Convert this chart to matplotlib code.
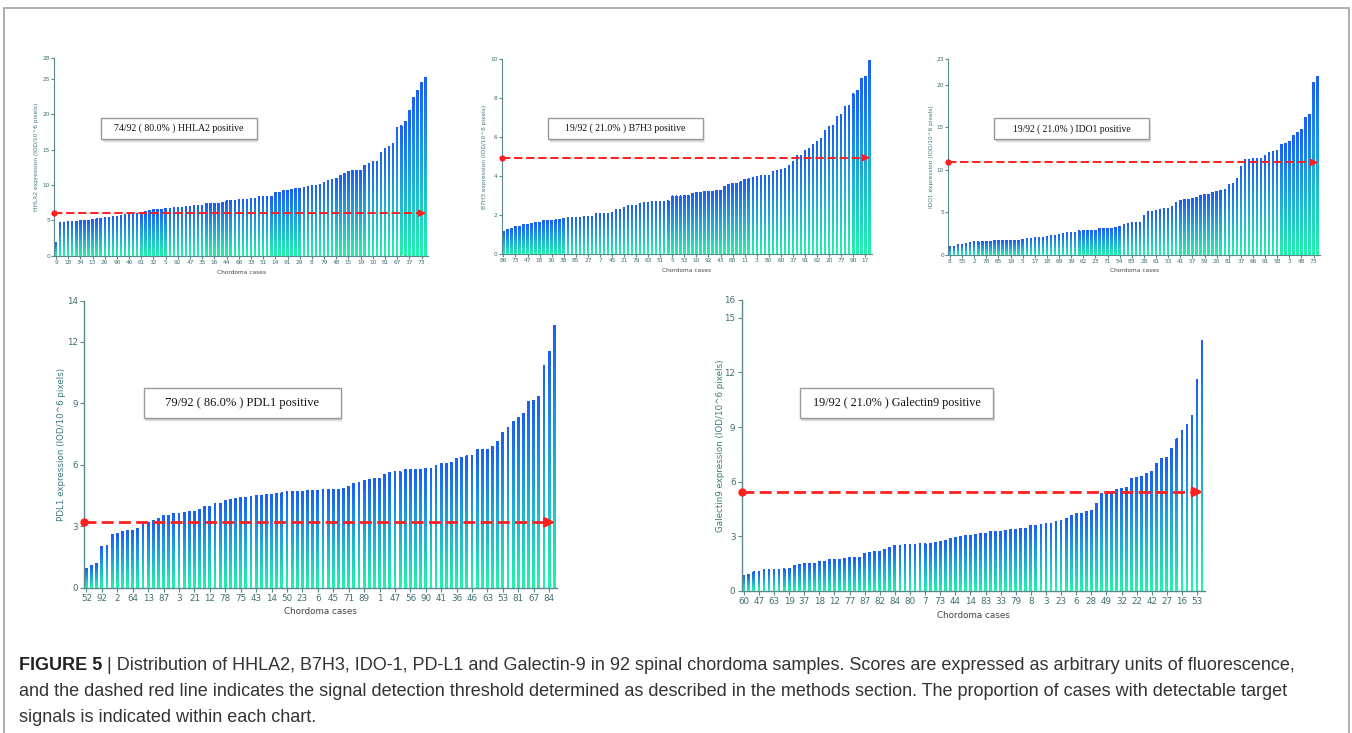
import numpy as np
import matplotlib
matplotlib.use('Agg')
import matplotlib.pyplot as plt
from matplotlib.patches import Rectangle
from matplotlib.colors import LinearSegmentedColormap
from matplotlib import font_manager

# ---------------- data ----------------
hhla2_vals = [1.9, 4.75, 4.75, 4.8, 4.85, 4.9, 4.95, 5.0, 5.05, 5.1,
              5.2, 5.3, 5.4, 5.4, 5.5, 5.5, 5.65, 5.8, 5.85, 5.95,
              6.0, 6.1, 6.2, 6.4, 6.5, 6.55, 6.6, 6.7, 6.7, 6.8,
              6.8, 6.85, 6.95, 7.0, 7.1, 7.1, 7.15, 7.35, 7.35, 7.4,
              7.4, 7.6, 7.75, 7.8, 7.85, 7.9, 7.9, 8.0, 8.05, 8.1,
              8.35, 8.35, 8.35, 8.4, 8.9, 9.0, 9.2, 9.3, 9.4, 9.55,
              9.55, 9.6, 9.85, 9.9, 9.95, 10.1, 10.4, 10.7, 10.75, 11.0,
              11.3, 11.65, 11.9, 12.0, 12.05, 12.05, 12.8, 13.1, 13.35, 13.4,
              14.6, 15.2, 15.5, 15.9, 18.2, 18.5, 19.0, 20.6, 22.4, 23.4,
              24.5, 25.3]
hhla2_labels = ['9', '18', '34', '13', '26', '90', '46', '61', '32', '5', '92', '47', '35', '16',
                '44', '66', '33', '51', '14', '91', '29', '8', '79', '48', '15', '19', '10', '81',
                '67', '37', '73']
hhla2_thr = 6.02

b7h3_vals = [1.15, 1.28, 1.32, 1.42, 1.45, 1.54, 1.54, 1.56, 1.62, 1.64,
             1.71, 1.71, 1.74, 1.76, 1.81, 1.86, 1.88, 1.88, 1.9, 1.91,
             1.95, 1.95, 1.95, 2.08, 2.1, 2.1, 2.1, 2.12, 2.31, 2.32,
             2.39, 2.48, 2.48, 2.5, 2.58, 2.65, 2.68, 2.72, 2.72, 2.72,
             2.73, 2.75, 2.99, 2.99, 2.99, 3.02, 3.04, 3.11, 3.16, 3.16,
             3.2, 3.21, 3.23, 3.26, 3.26, 3.5, 3.59, 3.62, 3.62, 3.71,
             3.85, 3.88, 3.93, 4.0, 4.02, 4.02, 4.03, 4.24, 4.32, 4.36,
             4.39, 4.56, 4.74, 5.09, 5.09, 5.3, 5.45, 5.62, 5.76, 5.93,
             6.36, 6.53, 6.58, 7.06, 7.15, 7.57, 7.61, 8.26, 8.39, 9.0,
             9.11, 9.93]
b7h3_labels = ['86', '73', '47', '18', '30', '38', '85', '27', '7', '45', '21', '79', '63', '51',
               '5', '53', '10', '92', '43', '68', '11', '3', '80', '60', '37', '91', '62', '20',
               '77', '90', '17']
b7h3_thr = 4.95

ido1_vals = [0.94, 1.0, 1.25, 1.25, 1.37, 1.48, 1.56, 1.6, 1.6, 1.64,
             1.64, 1.68, 1.68, 1.68, 1.72, 1.72, 1.76, 1.76, 1.84, 1.91,
             1.99, 2.03, 2.03, 2.07, 2.23, 2.34, 2.34, 2.38, 2.54, 2.66,
             2.66, 2.66, 2.85, 2.89, 2.89, 2.93, 2.93, 3.12, 3.12, 3.12,
             3.16, 3.2, 3.32, 3.59, 3.71, 3.79, 3.79, 3.87, 4.69, 5.08,
             5.08, 5.27, 5.31, 5.43, 5.51, 5.7, 6.21, 6.4, 6.52, 6.52,
             6.68, 6.8, 6.99, 7.1, 7.15, 7.38, 7.46, 7.54, 7.73, 8.24,
             8.4, 8.98, 10.43, 11.25, 11.25, 11.29, 11.37, 11.37, 11.72, 12.07,
             12.19, 12.3, 12.97, 13.12, 13.36, 14.06, 14.38, 14.73, 16.13, 16.45,
             20.2, 21.0]
ido1_labels = ['8', '55', '2', '78', '65', '19', '5', '17', '18', '69', '39', '62', '23', '71',
               '54', '83', '28', '61', '53', '41', '57', '59', '20', '81', '37', '66', '91', '58',
               '3', '48', '73']
ido1_thr = 10.86

pdl1_vals = [0.94, 1.07, 1.19, 2.02, 2.07, 2.6, 2.63, 2.73, 2.8, 2.81,
             2.91, 3.14, 3.18, 3.27, 3.37, 3.53, 3.53, 3.61, 3.64, 3.66,
             3.71, 3.71, 3.82, 3.95, 3.98, 4.1, 4.11, 4.26, 4.31, 4.34,
             4.39, 4.42, 4.47, 4.49, 4.49, 4.54, 4.54, 4.6, 4.62, 4.68,
             4.68, 4.68, 4.7, 4.73, 4.75, 4.75, 4.8, 4.8, 4.8, 4.8,
             4.86, 4.93, 5.09, 5.12, 5.25, 5.3, 5.32, 5.32, 5.5, 5.63,
             5.66, 5.69, 5.76, 5.76, 5.77, 5.79, 5.8, 5.82, 5.95, 6.05,
             6.07, 6.1, 6.29, 6.36, 6.44, 6.46, 6.72, 6.75, 6.75, 6.88,
             7.14, 7.56, 7.8, 8.1, 8.31, 8.5, 9.07, 9.14, 9.35, 10.83,
             11.5, 12.81]
pdl1_labels = ['52', '92', '2', '64', '13', '87', '3', '21', '12', '78', '75', '43', '14', '50',
               '23', '6', '45', '71', '89', '1', '47', '56', '90', '41', '36', '46', '63', '53',
               '81', '67', '84']
pdl1_thr = 3.19

gal9_vals = [0.86, 0.9, 1.03, 1.03, 1.14, 1.16, 1.17, 1.17, 1.21, 1.23,
             1.41, 1.45, 1.5, 1.5, 1.5, 1.6, 1.6, 1.69, 1.74, 1.74,
             1.78, 1.8, 1.82, 1.82, 2.04, 2.09, 2.13, 2.17, 2.29, 2.39,
             2.48, 2.5, 2.53, 2.55, 2.55, 2.57, 2.57, 2.59, 2.66, 2.72,
             2.77, 2.88, 2.92, 2.99, 3.03, 3.06, 3.1, 3.12, 3.12, 3.23,
             3.27, 3.27, 3.3, 3.34, 3.38, 3.43, 3.43, 3.6, 3.61, 3.65,
             3.67, 3.72, 3.8, 3.87, 3.98, 4.13, 4.24, 4.26, 4.37, 4.42,
             4.79, 5.34, 5.38, 5.47, 5.56, 5.61, 5.69, 6.18, 6.2, 6.26,
             6.46, 6.55, 6.99, 7.28, 7.34, 7.8, 8.35, 8.81, 9.14, 9.65,
             11.63, 13.74]
gal9_labels = ['60', '47', '63', '19', '37', '18', '12', '77', '87', '82', '84', '80', '7', '73',
               '44', '14', '83', '33', '79', '8', '3', '23', '6', '28', '49', '32', '22', '42',
               '27', '16', '53']
gal9_thr = 5.43

caption_bold = "FIGURE 5"
caption_lines = [
    " | Distribution of HHLA2, B7H3, IDO-1, PD-L1 and Galectin-9 in 92 spinal chordoma samples. Scores are expressed as arbitrary units of fluorescence,",
    "and the dashed red line indicates the signal detection threshold determined as described in the methods section. The proportion of cases with detectable target",
    "signals is indicated within each chart.",
]

# ---------------- styling ----------------
W, H = 1352, 733
fig = plt.figure(figsize=(W / 100, H / 100), dpi=100)
renderer = fig.canvas.get_renderer()

def fx(px):
    return px / W

def fy(py):
    return 1 - py / H

AXIS_COL = '#5b8a8e'
TICK_COL = '#3f6e73'
LABEL_COL = '#3d7a80'
RED = '#ff1f1f'
cmap = LinearSegmentedColormap.from_list('bar', ['#22f5aa', '#1eaad6', '#1a5ff2'])
N_SEG = 40

serif = 'Liberation Serif'
names = {f.name for f in font_manager.fontManager.ttflist}
cap_font = 'Liberation Sans Narrow' if 'Liberation Sans Narrow' in names else 'Liberation Sans'


def fit_size(text, family, target_px, weight='normal'):
    t = fig.text(0, 0, text, fontsize=10, family=family, weight=weight)
    w = t.get_window_extent(renderer).width
    t.remove()
    return 10 * target_px / w


def panel(vals, labels, thr, ymax, yticks, ylabel, boxtext, rect_px, box_px, text_w,
          ylab_x, xlab_y, big):
    l, t, r, b = rect_px
    ax = fig.add_axes([fx(l), fy(b), (r - l) / W, (b - t) / H])
    n = len(vals)
    x = np.arange(n)
    v = np.asarray(vals, dtype=float)
    xmin, xmax = -0.42, n - 0.42
    bw = 0.36
    eps = 1.5 * ymax / (b - t)   # >1 px overlap between gradient segments
    # per-bar vertical gradient: each bar drawn as stacked segments, bottom green -> top blue
    for k in range(N_SEG):
        col = cmap((k + 0.5) / N_SEG)
        seg_h = v / N_SEG + (eps if k < N_SEG - 1 else 0)
        seg_h = np.minimum(seg_h, v - v * k / N_SEG)
        ax.bar(x, seg_h, bottom=v * k / N_SEG, width=bw, color=col, linewidth=0,
               snap=False, antialiased=False, zorder=2 + k * 0.001)
    ax.set_xlim(xmin, xmax)
    ax.set_ylim(0, ymax)
    for s in ['top', 'right']:
        ax.spines[s].set_visible(False)
    for s in ['left', 'bottom']:
        ax.spines[s].set_color(AXIS_COL)
        ax.spines[s].set_linewidth(1.0 if big else 0.8)
        ax.spines[s].set_zorder(4)
    fs = 6.3 if big else 4.2
    ax.set_yticks(yticks)
    ax.set_yticklabels([str(y) for y in yticks])
    ax.set_xticks(x[::3])
    ax.set_xticklabels(labels)
    ax.tick_params(axis='both', colors=AXIS_COL, labelcolor=TICK_COL, labelsize=fs,
                   length=3 if big else 2, width=0.8, pad=1.5 if big else 1)
    # threshold line
    lw = 2.0 if big else 1.4
    ax.plot([xmin, n - 1.8], [thr, thr], color=RED, lw=lw, dashes=(4.3, 1.9),
            zorder=5, clip_on=False)
    ax.plot([xmin], [thr], 'o', color=RED, ms=5 if big else 3.5, zorder=6, clip_on=False)
    ax.annotate('', xy=(n - 0.85, thr), xytext=(n - 2.2, thr),
                arrowprops=dict(arrowstyle='-|>,head_length=0.55,head_width=0.28',
                                color=RED, lw=lw, shrinkA=0, shrinkB=0,
                                mutation_scale=10 if big else 7),
                zorder=6, annotation_clip=False)
    # axis labels
    fig.text(fx(ylab_x), fy((t + b) / 2), ylabel, rotation=90, ha='center', va='center',
             fontsize=fs, color=LABEL_COL)
    fig.text(fx((l + r) / 2), fy(xlab_y), 'Chordoma cases', ha='center', va='center',
             fontsize=fs, color='#444444')
    # annotation box with shadow
    bx0, by0, bx1, by1 = box_px
    for k, a in zip([4, 3, 2, 1], [0.05, 0.07, 0.09, 0.12]):
        fig.patches.append(Rectangle((fx(bx0 + k * 0.5), fy(by1 + k)), (bx1 - bx0) / W,
                                     (by1 - by0) / H, transform=fig.transFigure,
                                     facecolor='#000000', alpha=a, edgecolor='none', zorder=8))
    fig.patches.append(Rectangle((fx(bx0), fy(by1)), (bx1 - bx0) / W, (by1 - by0) / H,
                                 transform=fig.transFigure, facecolor='white',
                                 edgecolor='#9a9a9a', lw=1.0, zorder=9))
    size = fit_size(boxtext, serif, text_w)
    fig.text(fx((bx0 + bx1) / 2), fy((by0 + by1) / 2), boxtext, ha='center', va='center',
             family=serif, fontsize=size, color='#111111', zorder=10)
    return ax


panel(hhla2_vals, hhla2_labels, hhla2_thr, 28, [0, 5, 10, 15, 20, 25, 28],
      'HHLA2 expression (IOD/10^6 pixels)', '74/92 ( 80.0% ) HHLA2 positive',
      (54.3, 58, 428, 255.7), (101, 118.3, 256.7, 138.7), 130, 36.7, 272, False)
panel(b7h3_vals, b7h3_labels, b7h3_thr, 10, [0, 2, 4, 6, 8, 10],
      'B7H3 expression (IOD/10^6 pixels)', '19/92 ( 21.0% ) B7H3 positive',
      (501.7, 59.3, 871.7, 254.3), (548.3, 118.3, 702.7, 138.7), 120, 485, 270.7, False)
panel(ido1_vals, ido1_labels, ido1_thr, 23, [0, 5, 10, 15, 20, 23],
      'IDO1 expression (IOD/10^6 pixels)', '19/92 ( 21.0% ) IDO1 positive',
      (948.3, 59, 1320, 255), (994, 118.3, 1149.3, 139.3), 118, 931, 271, False)
panel(pdl1_vals, pdl1_labels, pdl1_thr, 14, [0, 3, 6, 9, 12, 14],
      'PDL1 expression (IOD/10^6 pixels)', '79/92 ( 86.0% ) PDL1 positive',
      (84.3, 300.7, 557.3, 587.7), (143.7, 387.7, 340.7, 418), 154, 62, 611.7, True)
panel(gal9_vals, gal9_labels, gal9_thr, 16, [0, 3, 6, 9, 12, 15, 16],
      'Galectin9 expression (IOD/10^6 pixels)', '19/92 ( 21.0% ) Galectin9 positive',
      (741.7, 299.7, 1205, 590.7), (799.7, 388, 993.3, 418.3), 168.7, 720.7, 615, True)

# outer frame
fig.patches.append(Rectangle((fx(4), fy(745)), (1349 - 4) / W, (745 - 8) / H,
                             transform=fig.transFigure, facecolor='none',
                             edgecolor='#a8a8a8', lw=1.3, zorder=1))

# caption
cap_size = fit_size(caption_lines[1], cap_font, 1294 - 19)
tb = fig.text(fx(19), fy(666), caption_bold, family=cap_font, weight='bold',
              fontsize=cap_size, color='#222222', va='center', ha='left')
bwid = tb.get_window_extent(renderer).width
fig.text(fx(19 + bwid), fy(666), caption_lines[0], family=cap_font, fontsize=cap_size,
         color='#333333', va='center', ha='left')
fig.text(fx(19), fy(692), caption_lines[1], family=cap_font, fontsize=cap_size,
         color='#333333', va='center', ha='left')
fig.text(fx(19), fy(717), caption_lines[2], family=cap_font, fontsize=cap_size,
         color='#333333', va='center', ha='left')

fig.savefig('out.png', dpi=100, facecolor='white')
